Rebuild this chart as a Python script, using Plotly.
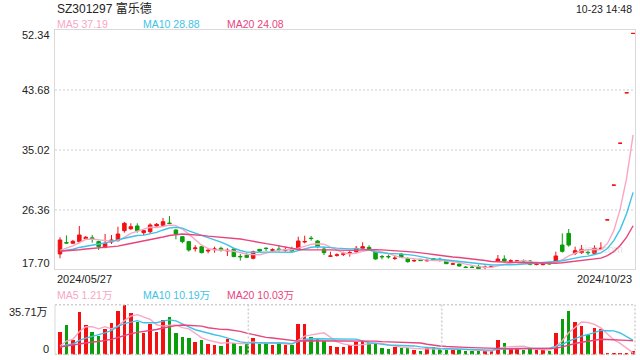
import plotly.graph_objects as go
import pandas as pd

# ---------------- data ----------------
date_labels = ["2024/05/27", "2024/10/23"]
title_text = "SZ301297 富乐德"
time_text = "10-23 14:48"

opens = [19.91, 21.55, 21.46, 21.70, 22.13, 22.25, 21.70, 20.88, 21.65, 21.84,
         23.29, 23.57, 23.97, 23.00, 23.14, 23.97, 24.07, 24.40, 23.38, 22.42,
         21.70, 20.68, 20.97, 20.34, 20.53, 20.73, 20.34, 20.63, 19.55, 19.71,
         19.28, 20.58, 20.75, 20.44, 20.62, 20.44, 20.63, 20.63, 21.65, 22.20,
         21.79, 20.63, 19.57, 19.72, 19.86, 20.05, 20.24, 20.73, 20.87, 20.24,
         19.55, 19.55, 19.25, 19.91, 19.23, 18.90, 19.13, 18.92, 19.23, 19.15,
         18.89, 18.42, 18.45, 17.99, 17.99, 18.07, 17.95, 18.04, 18.84, 19.18,
         18.86, 18.87, 18.92, 18.89, 18.38, 18.36, 18.65, 18.84, 21.21, 22.90,
         20.00, 20.10, 20.15, 20.00, 20.68, 24.84, 29.88, 35.96, 43.28, 51.89]
highs = [22.33, 22.60, 21.95, 23.97, 22.50, 22.66, 21.84, 22.81, 22.66, 23.86,
         24.55, 24.36, 24.36, 23.38, 24.36, 24.40, 25.13, 25.42, 23.49, 22.50,
         21.79, 21.17, 21.05, 20.73, 20.97, 20.97, 20.73, 20.70, 19.91, 20.07,
         20.39, 20.60, 20.87, 20.73, 21.21, 20.97, 20.97, 22.42, 22.56, 22.52,
         21.94, 20.97, 20.24, 20.00, 20.24, 20.49, 21.07, 21.60, 21.17, 20.30,
         19.76, 19.81, 19.61, 20.00, 19.42, 19.13, 19.20, 19.23, 19.30, 19.37,
         18.95, 18.65, 18.50, 18.16, 18.21, 18.36, 18.26, 18.20, 19.76, 19.71,
         19.13, 19.00, 19.13, 19.03, 18.74, 18.74, 18.70, 20.24, 22.90, 23.53,
         20.97, 21.21, 20.39, 21.16, 21.60, 24.86, 29.90, 35.98, 43.30, 51.91]
lows = [19.28, 21.45, 21.35, 21.46, 22.00, 21.55, 20.49, 20.73, 21.36, 21.70,
        23.00, 23.38, 23.00, 22.62, 22.81, 23.90, 23.97, 24.26, 22.04, 21.46,
        20.25, 20.25, 20.00, 20.00, 20.10, 20.24, 19.61, 19.45, 18.94, 19.32,
        19.13, 20.20, 20.34, 20.24, 20.24, 20.24, 20.24, 20.49, 21.45, 21.84,
        20.73, 19.76, 19.52, 19.52, 19.61, 19.52, 20.00, 20.63, 20.49, 19.10,
        19.13, 19.23, 19.03, 19.35, 18.65, 18.74, 18.90, 18.79, 19.00, 18.79,
        18.45, 18.31, 18.10, 17.88, 17.88, 17.76, 17.71, 17.95, 18.74, 18.70,
        18.70, 18.80, 18.65, 18.26, 18.26, 18.26, 18.40, 18.74, 20.10, 20.97,
        19.76, 19.91, 19.76, 19.91, 20.49, 24.84, 29.88, 35.96, 43.28, 51.89]
closes = [21.94, 21.50, 21.75, 22.66, 22.33, 22.10, 20.98, 21.46, 21.94, 22.81,
          24.36, 23.86, 23.29, 23.29, 24.11, 24.21, 24.59, 24.33, 22.81, 21.70,
          20.49, 20.78, 20.10, 20.44, 20.63, 20.49, 20.44, 19.52, 19.50, 19.42,
          20.24, 20.34, 20.70, 20.52, 20.56, 20.53, 20.34, 21.79, 21.72, 22.15,
          20.97, 20.10, 19.62, 19.78, 19.92, 20.12, 20.73, 20.97, 20.63, 19.18,
          19.50, 19.50, 19.30, 19.42, 18.79, 18.96, 18.94, 18.97, 19.05, 19.10,
          18.50, 18.48, 18.16, 17.96, 17.96, 17.78, 18.00, 18.09, 19.18, 18.89,
          18.91, 18.92, 18.88, 18.41, 18.43, 18.55, 18.45, 19.62, 20.29, 21.21,
          20.39, 20.58, 20.10, 20.73, 20.73, 24.86, 29.90, 35.98, 43.30, 51.91]
# volume in 万 (10k shares)
volumes = [16.2, 21.3, 10.5, 30.7, 21.3, 16.2, 13.6, 18.4, 22.7, 31.4,
           35.71, 29.9, 23.4, 15.5, 22.0, 16.2, 24.9, 27.1, 15.5, 12.9,
           11.9, 9.0, 10.5, 7.6, 7.1, 6.4, 11.2, 8.1, 6.4, 7.6,
           11.9, 7.6, 8.1, 6.9, 8.1, 6.9, 7.1, 22.0, 22.0, 12.9,
           11.2, 10.0, 6.2, 5.5, 5.5, 6.6, 9.3, 9.7, 8.1, 8.1,
           4.7, 4.0, 5.4, 4.7, 4.7, 3.5, 2.5, 4.7, 5.4, 4.0,
           3.5, 3.2, 3.2, 2.5, 2.5, 3.0, 2.5, 2.5, 10.5, 8.3,
           4.2, 4.2, 3.2, 4.2, 3.2, 3.2, 2.5, 15.5, 25.6, 31.5,
           23.4, 20.6, 14.1, 19.1, 18.4, 0.85, 0.8, 0.8, 0.9, 2.7]
# history before the first visible day (for moving averages)
prior_closes = [20.6, 20.4, 20.5, 20.3, 20.2, 20.4, 20.1, 20.3, 20.0, 20.2,
                20.4, 20.1, 20.0, 20.3, 20.2, 19.9, 20.1, 20.2, 20.0]
prior_volumes = [6.0, 5.5, 6.0, 5.0, 5.5, 6.0, 5.0, 5.5, 5.0, 6.0,
                 4.5, 4.0, 5.0, 4.5, 4.0, 3.5, 4.0, 3.5, 3.5]

price_ticks = [52.34, 43.68, 35.02, 26.36, 17.70]
vol_top = 35.71
price_legend = ["MA5 37.19", "MA10 28.88", "MA20 24.08"]
vol_legend = ["MA5 1.21万", "MA10 10.19万", "MA20 10.03万"]
ma_windows = [5, 10, 20]

# ---------------- styling ----------------
RED = "#f41010"
GREEN = "#0a9e0a"
MA_COLORS = ["#f9a6c4", "#3ec3e6", "#e8457e"]
TXT = "#222222"
FONT = "Liberation Sans, Arial, Noto Sans CJK SC, sans-serif"
W, H = 640, 360
L_PX, R_PX = 55, 635
MAIN_T, MAIN_B = 30.4, 269.2
VOL_T, VOL_B = 304.8, 354.6


def px(x):
    return x / W


def py(y):
    return 1 - y / H


n = len(closes)
idx = list(range(n))
up = [c >= o for o, c in zip(opens, closes)]
bar_colors = [RED if u else GREEN for u in up]

all_c = pd.Series(prior_closes + closes)
all_v = pd.Series(prior_volumes + volumes)
k = len(prior_closes)

fig = go.Figure()

fig.add_trace(go.Candlestick(
    x=idx, open=opens, high=highs, low=lows, close=closes,
    increasing=dict(line=dict(color=RED, width=1), fillcolor=RED),
    decreasing=dict(line=dict(color=GREEN, width=1), fillcolor=GREEN),
    whiskerwidth=0, xaxis="x", yaxis="y", showlegend=False, hoverinfo="skip"))

for w, col in zip(ma_windows, MA_COLORS):
    ma = all_c.rolling(w).mean().iloc[k:].tolist()
    fig.add_trace(go.Scatter(x=idx, y=ma, mode="lines", line=dict(color=col, width=1.4),
                             xaxis="x", yaxis="y", showlegend=False, hoverinfo="skip"))

fig.add_trace(go.Bar(x=idx, y=volumes, marker=dict(color=bar_colors, line=dict(width=0)),
                     width=0.55, xaxis="x2", yaxis="y2", showlegend=False, hoverinfo="skip"))
for w, col in zip(ma_windows, MA_COLORS):
    ma = all_v.rolling(w).mean().iloc[k:].tolist()
    fig.add_trace(go.Scatter(x=idx, y=ma, mode="lines", line=dict(color=col, width=1.4),
                             xaxis="x2", yaxis="y2", showlegend=False, hoverinfo="skip"))

slot = (633.1 - 60.0) / (n - 1)
xr = [0 - (60.0 - L_PX) / slot, (n - 1) + (R_PX - 633.1) / slot]

fig.update_layout(
    width=W, height=H, autosize=False,
    margin=dict(l=0, r=0, t=0, b=0),
    paper_bgcolor="white", plot_bgcolor="white",
    font=dict(family=FONT, size=11, color=TXT),
    bargap=0, boxgap=0.22, hovermode=False,
    xaxis=dict(domain=[px(L_PX), px(R_PX)], range=xr, anchor="y",
               showgrid=False, zeroline=False, showticklabels=False, ticks="",
               showline=True, mirror=True, linecolor="#d9d9d9", linewidth=1,
               rangeslider=dict(visible=False), fixedrange=True),
    yaxis=dict(domain=[py(MAIN_B), py(MAIN_T)], range=[price_ticks[-1], price_ticks[0]],
               tickvals=price_ticks[1:-1], showticklabels=False, ticks="",
               showgrid=True, gridcolor="#e6e6e6", gridwidth=2, griddash="2px,2px",
               zeroline=False, showline=True, mirror=True, linecolor="#d9d9d9", linewidth=1),
    xaxis2=dict(domain=[px(L_PX), px(R_PX)], range=xr, anchor="y2", matches="x",
                showgrid=False, zeroline=False, showticklabels=False, ticks="",
                rangeslider=dict(visible=False)),
    yaxis2=dict(domain=[py(VOL_B), py(VOL_T)], range=[0, vol_top],
                showgrid=False, zeroline=False, showticklabels=False, ticks=""),
)

# volume panel frame
dot = dict(color="#d0d0d0", width=1.5, dash="2px,2px")
shapes = [
    dict(type="line", xref="paper", yref="paper", x0=px(L_PX), x1=px(R_PX), y0=py(VOL_T), y1=py(VOL_T), line=dot),
    dict(type="line", xref="paper", yref="paper", x0=px(L_PX), x1=px(R_PX), y0=py(VOL_B), y1=py(VOL_B), line=dot),
    dict(type="line", xref="paper", yref="paper", x0=px(R_PX), x1=px(R_PX), y0=py(VOL_B), y1=py(VOL_T), line=dot),
    dict(type="line", xref="paper", yref="paper", x0=px(L_PX), x1=px(L_PX), y0=py(VOL_B), y1=py(VOL_T),
         line=dict(color="#d9d9d9", width=1)),
]
for f in (1 / 3, 2 / 3):
    xx = L_PX + (R_PX - L_PX) * f
    shapes.append(dict(type="line", xref="paper", yref="paper", x0=px(xx), x1=px(xx),
                       y0=py(VOL_B), y1=py(VOL_T), line=dot))
fig.update_layout(shapes=shapes)

ann = []
# title + time
ann.append(dict(text=title_text, xref="paper", yref="paper", x=px(55), y=py(8.5), xanchor="left",
                yanchor="middle", showarrow=False, font=dict(size=12, color=TXT)))
ann.append(dict(text=time_text, xref="paper", yref="paper", x=px(634), y=py(8.5), xanchor="right",
                yanchor="middle", showarrow=False, font=dict(size=10.5, color=TXT)))
# MA legends
leg_x = [55, 140.7, 225]
for t, xx, col in zip(price_legend, leg_x, MA_COLORS):
    ann.append(dict(text=t, xref="paper", yref="paper", x=px(xx), y=py(24), xanchor="left",
                    yanchor="middle", showarrow=False, font=dict(size=10.5, color=col)))
for t, xx, col in zip(vol_legend, leg_x, MA_COLORS):
    ann.append(dict(text=t, xref="paper", yref="paper", x=px(xx), y=py(295), xanchor="left",
                    yanchor="middle", showarrow=False, font=dict(size=10.5, color=col)))
# price labels
for i, v in enumerate(price_ticks):
    shift = 0
    if i == 0:
        shift = -(35.0 - MAIN_T)
    elif i == len(price_ticks) - 1:
        shift = MAIN_B - 263.0
    ann.append(dict(text=f"{v:.2f}", xref="paper", yref="y", x=px(51.5), y=v, yshift=shift,
                    xanchor="right", yanchor="middle", showarrow=False, font=dict(size=11, color=TXT)))
# volume labels
ann.append(dict(text=f"{vol_top:.2f}万", xref="paper", yref="y2", x=px(50), y=vol_top,
                yshift=-(311.5 - VOL_T), xanchor="right", yanchor="middle", showarrow=False,
                font=dict(size=11, color=TXT)))
ann.append(dict(text="0", xref="paper", yref="y2", x=px(50.5), y=0, yshift=VOL_B - 348.5,
                xanchor="right", yanchor="middle", showarrow=False, font=dict(size=11, color=TXT)))
# date labels
ann.append(dict(text=date_labels[0], xref="paper", yref="paper", x=px(55), y=py(278.5), xanchor="left",
                yanchor="middle", showarrow=False, font=dict(size=11, color=TXT)))
ann.append(dict(text=date_labels[1], xref="paper", yref="paper", x=px(634), y=py(278.5), xanchor="right",
                yanchor="middle", showarrow=False, font=dict(size=11, color=TXT)))
# watermark
ann.append(dict(text="sina.com", xref="paper", yref="paper", x=px(601), y=py(249), xanchor="center",
                yanchor="middle", showarrow=False, font=dict(size=11, color="rgba(185,185,185,0.45)")))
fig.update_layout(annotations=ann)

fig.write_html("out.html", config={"displayModeBar": False, "staticPlot": True},
               post_script="document.body.style.margin='0';document.body.style.overflow='hidden';")
